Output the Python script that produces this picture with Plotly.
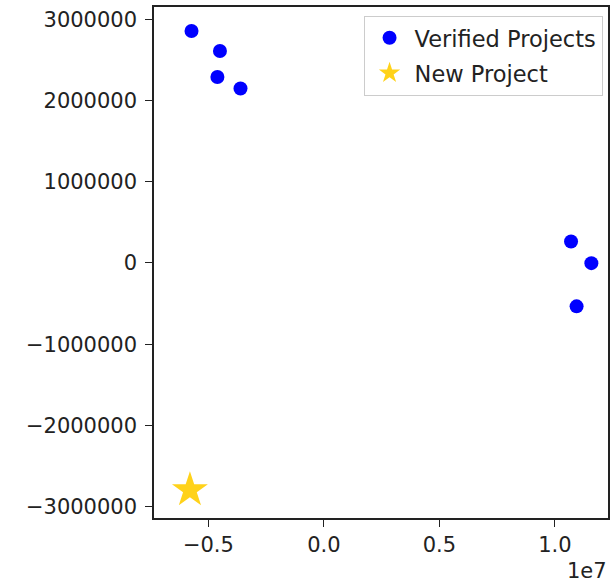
import plotly.graph_objects as go

# Data (x in units of 1e7 shown via offset "1e7")
verified_x = [-5.73e6, -4.50e6, -4.61e6, -3.61e6, 1.070e7, 1.158e7, 1.094e7]
verified_y = [2.856e6, 2.61e6, 2.29e6, 2.147e6, 0.264e6, -0.002e6, -0.534e6]
new_x = [-5.80e6]
new_y = [-2.795e6]

x_tickvals = [-0.5e7, 0.0, 0.5e7, 1.0e7]
x_ticktext = ["\u22120.5", "0.0", "0.5", "1.0"]
y_tickvals = [-3e6, -2e6, -1e6, 0, 1e6, 2e6, 3e6]
y_ticktext = ["\u22123000000", "\u22122000000", "\u22121000000", "0", "1000000", "2000000", "3000000"]

FONT = "DejaVu Sans"

fig = go.Figure()
fig.add_trace(go.Scatter(
    x=verified_x, y=verified_y, mode="markers", name="Verified Projects",
    legendgroup="a",
    marker=dict(color="#0000ff", size=14, line=dict(width=0)),
))
fig.add_trace(go.Scatter(
    x=new_x, y=new_y, mode="markers", name="New Project",
    legendgroup="b",
    marker=dict(color="#ffd21a", size=27, symbol="star", line=dict(width=0)),
))

axis_common = dict(
    showline=True, linecolor="#222", linewidth=1.5, mirror=True,
    ticks="outside", ticklen=7, tickwidth=1.3, tickcolor="#222",
    showgrid=False, zeroline=False,
    tickfont=dict(family=FONT, size=21, color="#222"),
)

fig.update_xaxes(range=[-0.7355e7, 1.230e7], tickvals=x_tickvals, ticktext=x_ticktext, **axis_common)
fig.update_yaxes(range=[-3.139e6, 3.151e6], tickvals=y_tickvals, ticktext=y_ticktext,
                 ticklabelstandoff=4, **axis_common)

fig.add_annotation(
    text="1e7", xref="paper", yref="paper", x=1.0, y=-0.103, xanchor="right", yanchor="middle",
    xshift=1, showarrow=False, font=dict(family=FONT, size=21, color="#222"),
)

fig.update_layout(
    width=613, height=585,
    margin=dict(l=154, r=3, t=7, b=67),
    plot_bgcolor="white", paper_bgcolor="white",
    font=dict(family=FONT, size=21, color="#222"),
    legend=dict(
        x=0.988, y=0.983, xanchor="right", yanchor="top",
        bgcolor="rgba(255,255,255,0.8)", bordercolor="#cccccc", borderwidth=1,
        font=dict(family=FONT, size=22.5, color="#222"),
        itemsizing="trace", itemwidth=40, tracegroupgap=3,
    ),
)

fig.write_html(
    "out.html",
    config={"displayModeBar": False},
    post_script="document.body.style.margin='0';document.body.style.overflow='hidden';",
)
